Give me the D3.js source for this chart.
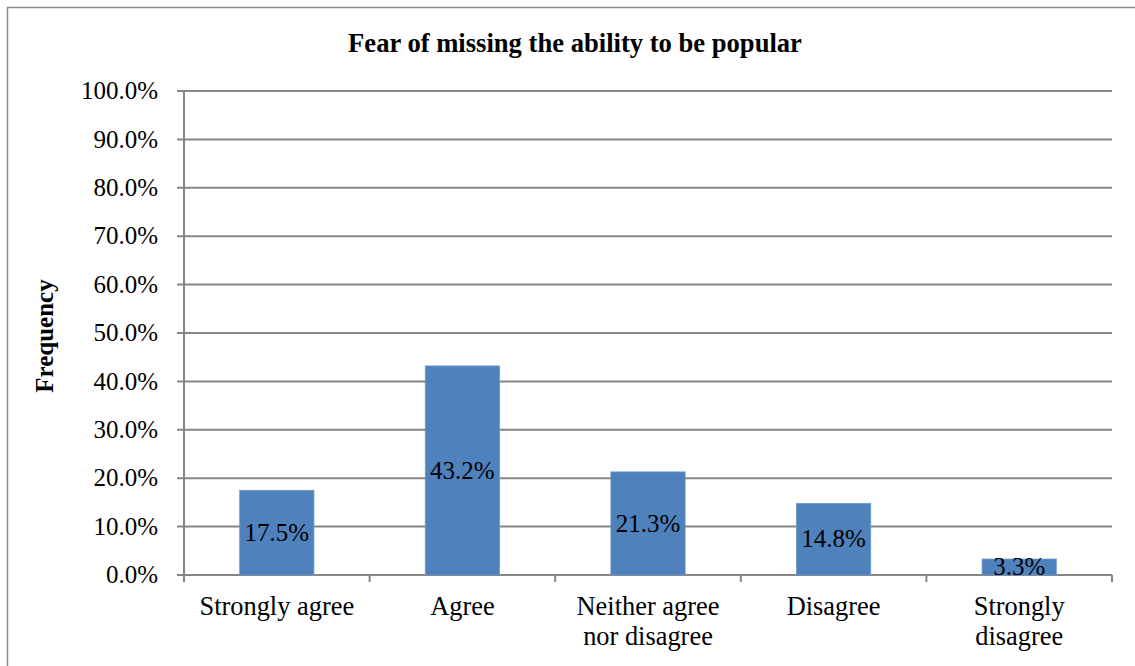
<!DOCTYPE html>
<html><head><meta charset="utf-8">
<script src="https://cdn.jsdelivr.net/npm/d3@7"></script>
<style>
html,body{margin:0;padding:0;background:#fff;}
svg{display:block;}
text{font-family:"Liberation Serif","Times New Roman",serif;fill:#000;}
</style></head>
<body>
<svg id="chart" width="1135" height="666"></svg>
<script>
const title = "Fear of missing the ability to be popular";
const yAxisTitle = "Frequency";
const categories = ["Strongly agree", "Agree", "Neither agree nor disagree", "Disagree", "Strongly disagree"];
const categoryLines = [["Strongly agree"], ["Agree"], ["Neither agree", "nor disagree"], ["Disagree"], ["Strongly", "disagree"]];
const values = [17.5, 43.2, 21.3, 14.8, 3.3];
const yTicks = [0, 10, 20, 30, 40, 50, 60, 70, 80, 90, 100];

(function () {
const svg = d3.select("#chart");
const gridColor = "#868686";
const plotLeft = 184, plotRight = 1112, plotTop = 91, plotBottom = 575;

// outer frame
svg.append("rect").attr("x", 7.5).attr("y", 7.5).attr("width", 1150).attr("height", 700)
  .attr("fill", "none").attr("stroke", "#8a8a8a").attr("stroke-width", 1.5);

const x = d3.scaleBand().domain(categories).range([plotLeft, plotRight]).padding(0);
const y = d3.scaleLinear().domain([0, 100]).range([plotBottom, plotTop]);

// gridlines
svg.append("g").selectAll("line").data(yTicks).join("line")
  .attr("x1", plotLeft - 7).attr("x2", plotRight)
  .attr("y1", d => y(d)).attr("y2", d => y(d))
  .attr("stroke", gridColor).attr("stroke-width", 2);

// y axis line
svg.append("line").attr("x1", plotLeft).attr("x2", plotLeft).attr("y1", plotTop - 1).attr("y2", plotBottom)
  .attr("stroke", gridColor).attr("stroke-width", 2);

// x ticks at category boundaries
const bounds = categories.map(c => x(c)).concat([x(categories[categories.length - 1]) + x.bandwidth()]);
svg.append("g").selectAll("line").data(bounds).join("line")
  .attr("x1", d => d).attr("x2", d => d).attr("y1", plotBottom).attr("y2", plotBottom + 7)
  .attr("stroke", gridColor).attr("stroke-width", 2);

// y tick labels
svg.append("g").selectAll("text").data(yTicks).join("text")
  .attr("x", 158).attr("y", d => y(d)).attr("dy", "0.33em")
  .attr("text-anchor", "end").attr("font-size", 25)
  .text(d => d.toFixed(1) + "%");

// bars
const bw = x.bandwidth() * 0.4;
svg.append("g").selectAll("rect").data(values).join("rect")
  .attr("x", (d, i) => x(categories[i]) + x.bandwidth() / 2 - bw / 2)
  .attr("width", bw)
  .attr("y", d => y(d)).attr("height", d => y(0) - y(d))
  .attr("fill", "#4F81BD").attr("stroke", "#6f97c8").attr("stroke-width", 0.8);

// data labels
svg.append("g").selectAll("text").data(values).join("text")
  .attr("x", (d, i) => x(categories[i]) + x.bandwidth() / 2)
  .attr("y", d => (y(d) + y(0)) / 2).attr("dy", "0.33em")
  .attr("text-anchor", "middle").attr("font-size", 25)
  .text(d => d.toFixed(1) + "%");

// category labels
const cat = svg.append("g").selectAll("text").data(categories).join("text")
  .attr("text-anchor", "middle").attr("font-size", 26.4)
  .attr("x", d => x(d) + x.bandwidth() / 2).attr("y", 615);
cat.each(function(d, i) {
  d3.select(this).selectAll("tspan").data(categoryLines[i]).join("tspan")
    .attr("x", x(d) + x.bandwidth() / 2)
    .attr("dy", (t, j) => j === 0 ? 0 : 30)
    .text(t => t);
});

// title
svg.append("text").attr("x", 575).attr("y", 52).attr("text-anchor", "middle")
  .attr("font-size", 26.6).attr("font-weight", "bold").text(title);

// y axis title
svg.append("text").attr("transform", "translate(53,336) rotate(-90)")
  .attr("text-anchor", "middle").attr("font-size", 25).attr("font-weight", "bold")
  .text(yAxisTitle);
})();
</script>
</body></html>
